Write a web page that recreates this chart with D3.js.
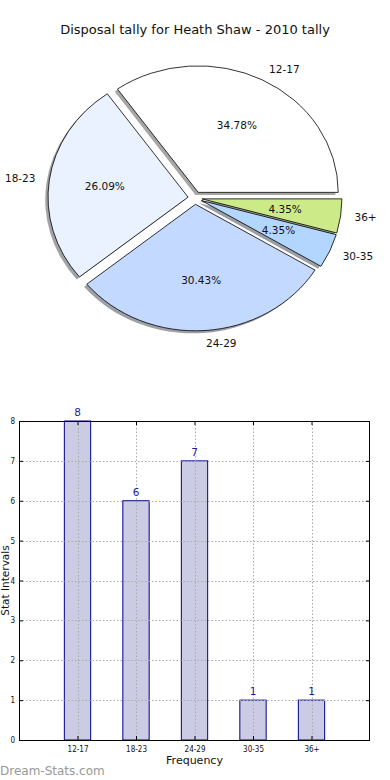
<!DOCTYPE html>
<html>
<head>
<meta charset="utf-8">
<script src="https://cdn.jsdelivr.net/npm/d3@7"></script>
<style>
  body { margin: 0; background: #fff; }
  svg { display: block; font-family: "DejaVu Sans", sans-serif; }
</style>
</head>
<body>
<svg id="chart" width="390" height="780"></svg>
<script>
const categories = ["12-17", "18-23", "24-29", "30-35", "36+"];
const tally = [8, 6, 7, 1, 1];
const sliceColors = ["#ffffff", "#eaf1ff", "#c4d9ff", "#b3d6ff", "#ccea88"];
const yTicks = [0, 1, 2, 3, 4, 5, 6, 7, 8];

const svg = d3.select("#chart");

svg.append("text")
  .attr("x", 195).attr("y", 34)
  .attr("text-anchor", "middle")
  .attr("font-size", "13px")
  .attr("fill", "#111")
  .text("Disposal tally for Heath Shaw - 2010 tally");

// ---- pie (matplotlib style, elliptical, exploded, with shadow)
const cx = 195, cy = 198, rx = 140, ry = 126.5, explode = 0.05;
const total = d3.sum(tally);
const pieData = d3.pie().sort(null).startAngle(0).endAngle(2 * Math.PI)(tally);

// matplotlib angle: counterclockwise from 3 o'clock; d3 angle: clockwise from 12
const slices = pieData.map((d, i) => {
  const t1 = d.startAngle, t2 = d.endAngle, tm = (t1 + t2) / 2;
  return {
    i, value: d.value,
    startAngle: Math.PI / 2 - t2,
    endAngle: Math.PI / 2 - t1,
    ox: cx + explode * rx * Math.cos(tm),
    oy: cy - explode * ry * Math.sin(tm),
    tm
  };
});

const arc = d3.arc().innerRadius(0).outerRadius(1);

const shadowLayer = svg.append("g");
const wedgeLayer = svg.append("g");

slices.forEach(s => {
  const c = d3.rgb(sliceColors[s.i]);
  shadowLayer.append("path")
    .attr("transform", `translate(${s.ox - 0.02 * rx},${s.oy + 0.02 * ry}) scale(${rx},${ry})`)
    .attr("d", arc(s))
    .attr("fill", d3.rgb(c.r * 0.3, c.g * 0.3, c.b * 0.3))
    .attr("fill-opacity", 0.5);
  wedgeLayer.append("path")
    .attr("transform", `translate(${s.ox},${s.oy}) scale(${rx},${ry})`)
    .attr("d", arc(s))
    .attr("fill", sliceColors[s.i])
    .attr("stroke", "#000")
    .attr("stroke-width", 0.8)
    .attr("vector-effect", "non-scaling-stroke");
});

const pieLabels = svg.append("g").attr("font-size", "10.5px").attr("fill", "#111");
slices.forEach(s => {
  const lx = s.ox + 1.1 * rx * Math.cos(s.tm);
  const ly = s.oy - 1.1 * ry * Math.sin(s.tm);
  pieLabels.append("text")
    .attr("x", lx).attr("y", ly)
    .attr("dy", "0.35em")
    .attr("text-anchor", Math.cos(s.tm) > 0 ? "start" : "end")
    .text(categories[s.i]);
  const px = s.ox + 0.6 * rx * Math.cos(s.tm);
  const py = s.oy - 0.6 * ry * Math.sin(s.tm);
  pieLabels.append("text")
    .attr("x", px).attr("y", py)
    .attr("dy", "0.35em")
    .attr("text-anchor", "middle")
    .text((s.value / total * 100).toFixed(2) + "%");
});

// ---- bar chart
const plotL = 19, plotR = 370, plotT = 421, plotB = 740;
const x = d3.scaleLinear().domain([0, 6]).range([plotL, plotR]);
const y = d3.scaleLinear().domain([0, 8]).range([plotB, plotT]);
const barW = 0.45;
const xTicks = categories.map((_, i) => i + 1);

const bars = svg.append("g");
bars.selectAll("rect")
  .data(tally)
  .enter().append("rect")
  .attr("x", (d, i) => x(i + 1 - barW / 2))
  .attr("y", d => y(d))
  .attr("width", (d, i) => x(i + 1 + barW / 2) - x(i + 1 - barW / 2))
  .attr("height", d => y(0) - y(d))
  .attr("fill", "#cbcbe4")
  .attr("stroke", "#000088")
  .attr("stroke-width", 1);

// grid on top of bars
const grid = svg.append("g")
  .attr("stroke", "#aaa")
  .attr("stroke-width", 1)
  .attr("stroke-dasharray", "1.5,2");
grid.selectAll(".gx").data(xTicks).enter().append("line")
  .attr("x1", d => Math.round(x(d)) + 0.5).attr("x2", d => Math.round(x(d)) + 0.5)
  .attr("y1", plotT).attr("y2", plotB);
grid.selectAll(".gy").data(yTicks).enter().append("line")
  .attr("y1", d => Math.round(y(d)) + 0.5).attr("y2", d => Math.round(y(d)) + 0.5)
  .attr("x1", plotL).attr("x2", plotR);

// value labels
svg.append("g").selectAll("text")
  .data(tally)
  .enter().append("text")
  .attr("x", (d, i) => x(i + 1))
  .attr("y", d => y(d) - 5)
  .attr("text-anchor", "middle")
  .attr("font-size", "10.5px")
  .attr("fill", "#1c1ca0")
  .text(d => d);

// axes: ticks inward on all four sides
const xAxis = svg.append("g")
  .attr("transform", `translate(0,${plotB})`)
  .call(d3.axisBottom(x).tickValues(xTicks).tickFormat((d, i) => categories[i])
    .tickSizeInner(-4).tickSizeOuter(0).tickPadding(6));
const xAxisTop = svg.append("g")
  .attr("transform", `translate(0,${plotT})`)
  .call(d3.axisTop(x).tickValues(xTicks).tickFormat("").tickSizeInner(-4).tickSizeOuter(0));
const yAxis = svg.append("g")
  .attr("transform", `translate(${plotL},0)`)
  .call(d3.axisLeft(y).tickValues(yTicks).tickFormat(d3.format("d"))
    .tickSizeInner(-4).tickSizeOuter(0).tickPadding(4));
const yAxisRight = svg.append("g")
  .attr("transform", `translate(${plotR},0)`)
  .call(d3.axisRight(y).tickValues(yTicks).tickFormat("").tickSizeInner(-4).tickSizeOuter(0));

[xAxis, xAxisTop, yAxis, yAxisRight].forEach(a => {
  a.select(".domain").remove();
  a.selectAll("text").attr("font-family", "DejaVu Sans Condensed, DejaVu Sans").attr("font-size", "8px").attr("fill", "#111");
  a.selectAll(".tick line").attr("stroke", "#000");
});

svg.append("rect")
  .attr("x", plotL + 0.5).attr("y", plotT + 0.5)
  .attr("width", plotR - plotL - 1).attr("height", plotB - plotT)
  .attr("fill", "none").attr("stroke", "#000").attr("stroke-width", 1);

svg.append("text")
  .attr("x", (plotL + plotR) / 2).attr("y", 764)
  .attr("text-anchor", "middle")
  .attr("font-size", "11px").attr("fill", "#111")
  .text("Frequency");

svg.append("text")
  .attr("transform", `translate(9,${(plotT + plotB) / 2}) rotate(-90)`)
  .attr("text-anchor", "middle")
  .attr("font-size", "10.5px").attr("fill", "#111")
  .text("Stat Intervals");

svg.append("text")
  .attr("x", 0).attr("y", 775)
  .attr("font-size", "12px").attr("fill", "#999")
  .text("Dream-Stats.com");
</script>
</body>
</html>
